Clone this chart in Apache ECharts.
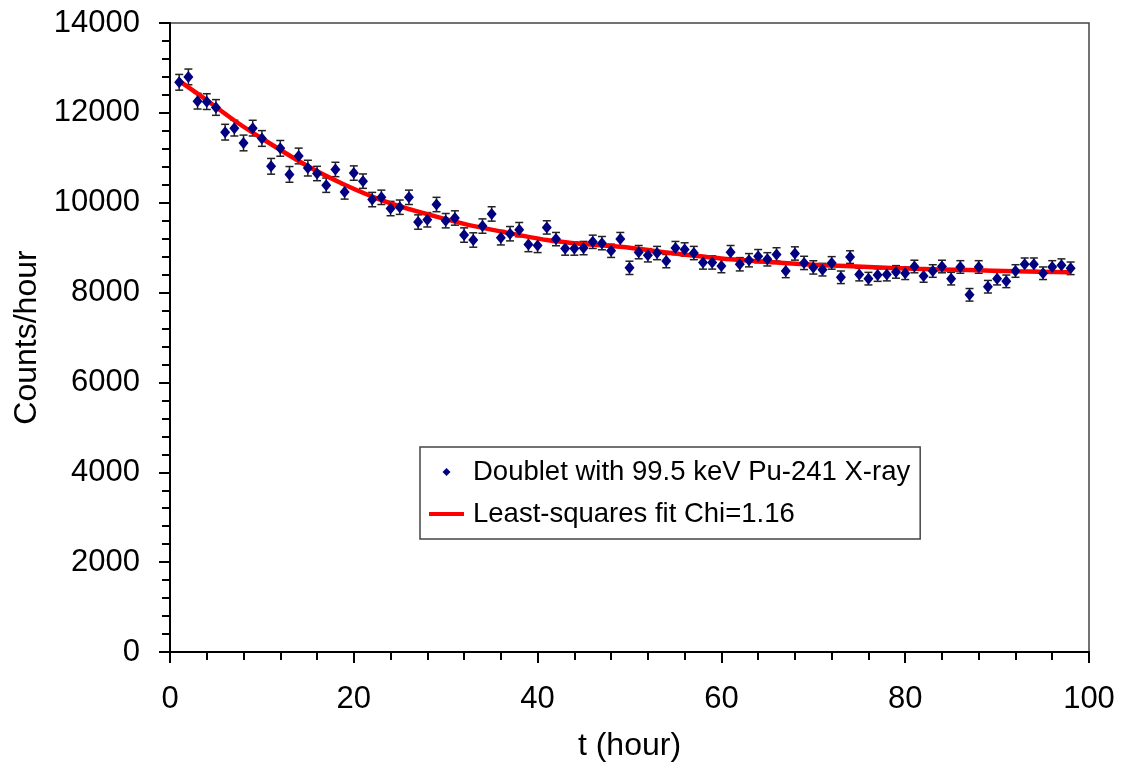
<!DOCTYPE html>
<html>
<head>
<meta charset="utf-8">
<title>Counts vs time</title>
<script src="https://cdn.jsdelivr.net/npm/echarts@6/dist/echarts.min.js"></script>
<style>
  html, body { margin: 0; padding: 0; background: #fff; }
  #chart { width: 1124px; height: 767px; }
</style>
</head>
<body>
<div id="chart"></div>
<script>
// measured points (hour, counts/hour, error)
const hours = [
  1, 2, 3, 4, 5, 6, 7, 8, 9, 10, 11, 12, 13, 14, 15, 16, 17, 18, 19, 20,
  21, 22, 23, 24, 25, 26, 27, 28, 29, 30, 31, 32, 33, 34, 35, 36, 37, 38, 39, 40,
  41, 42, 43, 44, 45, 46, 47, 48, 49, 50, 51, 52, 53, 54, 55, 56, 57, 58, 59, 60,
  61, 62, 63, 64, 65, 66, 67, 68, 69, 70, 71, 72, 73, 74, 75, 76, 77, 78, 79, 80,
  81, 82, 83, 84, 85, 86, 87, 88, 89, 90, 91, 92, 93, 94, 95, 96, 97, 98
];
const counts = [
  12680, 12800, 12260, 12250, 12120, 11570, 11660, 11330, 11660, 11430,
  10810, 11210, 10630, 11040, 10770, 10650, 10390, 10740, 10240, 10660,
  10480, 10070, 10120, 9870, 9900, 10120, 9570, 9620, 9960, 9600,
  9660, 9280, 9170, 9480, 9750, 9220, 9310, 9400, 9070, 9050,
  9450, 9190, 8980, 8980, 8990, 9130, 9100, 8930, 9190, 8550,
  8900, 8830, 8880, 8700, 8990, 8960, 8880, 8670, 8670, 8590,
  8900, 8630, 8720, 8810, 8740, 8850, 8480, 8870, 8660, 8560,
  8510, 8660, 8340, 8790, 8400, 8310, 8390, 8400, 8460, 8430,
  8580, 8370, 8480, 8580, 8310, 8570, 7950, 8570, 8130, 8310,
  8250, 8480, 8630, 8630, 8430, 8570, 8610, 8540
];
const errors = [
  175, 175, 175, 175, 175, 175, 175, 175, 175, 175,
  175, 175, 175, 175, 175, 160, 160, 160, 160, 160,
  160, 160, 160, 160, 160, 160, 160, 160, 160, 160,
  160, 160, 160, 160, 160, 160, 160, 160, 160, 160,
  148, 148, 148, 148, 148, 148, 148, 148, 148, 148,
  148, 148, 148, 148, 148, 148, 148, 148, 148, 148,
  148, 148, 148, 148, 148, 148, 148, 148, 148, 148,
  140, 140, 140, 140, 140, 140, 140, 140, 140, 140,
  140, 140, 140, 140, 140, 140, 140, 140, 140, 140,
  140, 140, 140, 140, 140, 140, 140, 140
];

// least-squares fit curve
const fitHours = [1, 4, 7, 10, 15, 19, 23, 27, 32, 36, 41, 45, 49, 55, 60, 66, 71, 76, 81, 87, 92, 98];
const fitCounts = [12710, 12280, 11830, 11430, 10810, 10400, 10060, 9800, 9530, 9360, 9170, 9080, 9020, 8870, 8760, 8670, 8610, 8570, 8530, 8500, 8475, 8455];

const xTicks = [0, 20, 40, 60, 80, 100];
const yTicks = [0, 2000, 4000, 6000, 8000, 10000, 12000, 14000];

const pointName = 'Doublet with 99.5 keV Pu-241 X-ray';
const fitName = 'Least-squares fit Chi=1.16';

const FONT = '"Liberation Sans", Arial, sans-serif';

const chart = echarts.init(document.getElementById('chart'));

const points = hours.map((h, i) => [h, counts[i]]);
const bars = hours.map((h, i) => [h, counts[i] - errors[i], counts[i] + errors[i]]);
const fit = fitHours.map((h, i) => [h, fitCounts[i]]);

const option = {
  backgroundColor: '#ffffff',
  animation: false,
  textStyle: { fontFamily: FONT, color: '#000' },
  grid: {
    left: 170,
    right: 35,
    top: 23,
    bottom: 115,
    show: true,
    borderColor: '#444',
    borderWidth: 1.5,
    backgroundColor: 'transparent'
  },
  legend: {
    orient: 'vertical',
    left: 420,
    top: 447,
    padding: [10, 10, 10, 9],
    itemGap: 12,
    itemWidth: 35,
    itemHeight: 8,
    borderColor: '#444',
    borderWidth: 1.5,
    backgroundColor: '#fff',
    textStyle: {
      fontFamily: FONT,
      fontSize: 27.5,
      color: '#000',
      lineHeight: 30,
      padding: [0, 0, 0, 4]
    },
    data: [
      { name: pointName, icon: 'path://M4,0 L8,4 L4,8 L0,4 Z' },
      { name: fitName, icon: 'path://M0,0 L35,0 L35,4 L0,4 Z' }
    ]
  },
  xAxis: {
    type: 'value',
    min: xTicks[0],
    max: xTicks[xTicks.length - 1],
    interval: 20,
    name: 't (hour)',
    nameLocation: 'middle',
    nameGap: 78,
    nameTextStyle: { fontFamily: FONT, fontSize: 32, color: '#000' },
    axisLine: { show: true, onZero: false, lineStyle: { color: '#000', width: 2 } },
    axisTick: { show: true, length: 11, lineStyle: { color: '#000', width: 2 } },
    minorTick: { show: true, splitNumber: 5, length: 8, lineStyle: { color: '#000', width: 2 } },
    axisLabel: { fontFamily: FONT, fontSize: 31, color: '#000', margin: 32 },
    splitLine: { show: false }
  },
  yAxis: {
    type: 'value',
    min: yTicks[0],
    max: yTicks[yTicks.length - 1],
    interval: 2000,
    name: 'Counts/hour',
    nameLocation: 'middle',
    nameGap: 124,
    nameTextStyle: { fontFamily: FONT, fontSize: 32, color: '#000' },
    axisLine: { show: true, onZero: false, lineStyle: { color: '#000', width: 2 } },
    axisTick: { show: true, length: 11, lineStyle: { color: '#000', width: 2 } },
    minorTick: { show: true, splitNumber: 5, length: 8, lineStyle: { color: '#000', width: 2 } },
    axisLabel: {
      fontFamily: FONT,
      fontSize: 31,
      color: '#000',
      margin: 30,
      formatter: (v) => String(v)
    },
    splitLine: { show: false }
  },
  series: [
    {
      name: 'errorbars',
      type: 'custom',
      z: 2,
      silent: true,
      data: bars,
      encode: { x: 0, y: [1, 2] },
      renderItem: (params, api) => {
        const x = api.value(0);
        const lo = api.coord([x, api.value(1)]);
        const hi = api.coord([x, api.value(2)]);
        const cap = 4;
        const style = { stroke: '#222', lineWidth: 1.5 };
        return {
          type: 'group',
          children: [
            { type: 'line', shape: { x1: lo[0], y1: lo[1], x2: hi[0], y2: hi[1] }, style },
            { type: 'line', shape: { x1: hi[0] - cap, y1: hi[1], x2: hi[0] + cap, y2: hi[1] }, style },
            { type: 'line', shape: { x1: lo[0] - cap, y1: lo[1], x2: lo[0] + cap, y2: lo[1] }, style }
          ]
        };
      }
    },
    {
      name: fitName,
      type: 'line',
      z: 3,
      data: fit,
      smooth: 0.3,
      showSymbol: false,
      symbol: 'none',
      lineStyle: { color: '#ff0000', width: 4.5 },
      itemStyle: { color: '#ff0000' }
    },
    {
      name: pointName,
      type: 'scatter',
      z: 4,
      data: points,
      symbol: 'diamond',
      symbolSize: [10, 12],
      itemStyle: { color: '#000080', opacity: 1 }
    }
  ]
};

chart.setOption(option);
</script>
</body>
</html>
